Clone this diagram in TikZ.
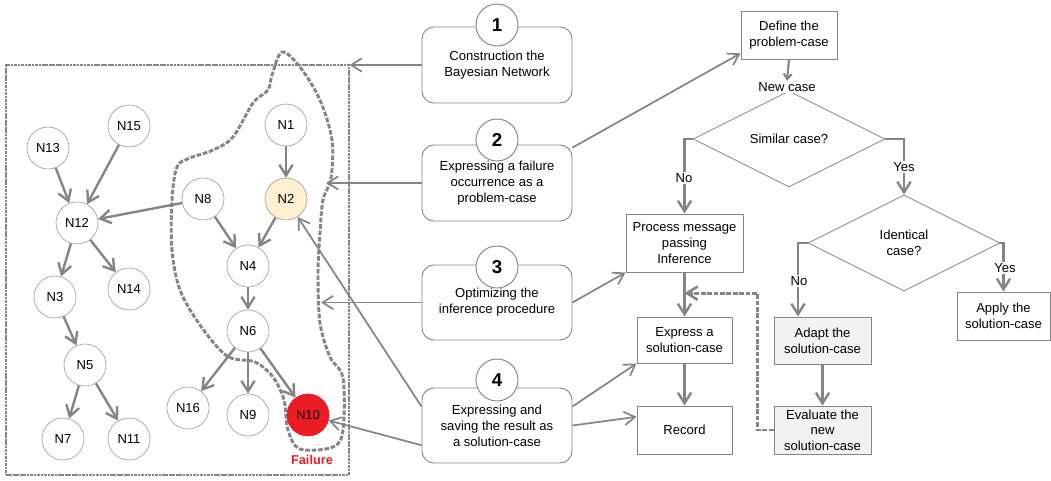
\documentclass[tikz,border=0pt]{standalone}
\usepackage{fontspec}
\setmainfont{Liberation Sans}
\usetikzlibrary{arrows.meta,shapes.geometric,calc}
\definecolor{lg}{HTML}{858585}
\definecolor{cgray}{HTML}{A0A0A0}
\definecolor{cream}{HTML}{FCF0D0}
\definecolor{fred}{HTML}{EC1C24}
\definecolor{boxgray}{HTML}{F2F2F2}
\begin{document}
\begin{tikzpicture}[x=0.75pt,y=-0.75pt,
  font=\fontsize{9.8pt}{12pt}\selectfont,
  bnode/.style={circle,draw=cgray,line width=0.5pt,minimum size=31.5pt,inner sep=0pt,fill=white},
  arr/.style={draw=lg,line width=1.8pt,-{Straight Barb[length=8pt,width=10pt]}},
  tarr/.style={draw=lg,line width=1.3pt,-{Straight Barb[length=8pt,width=10pt]}},
  stepbox/.style={draw=lg,rounded corners=9pt,line width=0.7pt,align=center,minimum width=112.5pt,inner sep=0pt},
  numc/.style={circle,draw=lg,line width=0.7pt,fill=white,minimum size=31.5pt,inner sep=0pt,font=\bfseries\fontsize{14pt}{14pt}\selectfont},
  fbox/.style={draw=lg,line width=0.7pt,align=center,inner sep=0pt,fill=white},
  dia/.style={diamond,draw=lg,line width=0.6pt,align=center,inner sep=0pt,aspect=2,minimum width=144pt,minimum height=72pt},
  lab/.style={fill=white,inner sep=1pt}
]
\useasboundingbox (0,0) rectangle (1051,480);

% Bayesian network frame
\node[draw=lg,dash pattern=on 2pt off 0.6pt,line width=0.8pt,minimum width=257.25pt,minimum height=307.5pt,inner sep=0pt] (bn) at (177.5,270) {};

% highlighted region
\draw[draw=lg,line width=2.2pt,dash pattern=on 3.5pt off 1.3pt]
  plot[smooth cycle,tension=0.55] coordinates {
  (282,52) (300,67) (320,100) (332,140) (331,178) (323,200) (320,233)
  (318,273) (320,323) (330,357) (343,378) (343,430) (333,447) (300,449)
  (288,430) (284,400) (273,377) (255,362) (227,356) (200,325) (180,290)
  (172,250) (172,200) (177,167) (190,158) (213,150) (233,137) (253,103)
  (268,90) (272,75)};

% network nodes
\node[bnode] (n13) at (48,148) {N13};
\node[bnode] (n15) at (129,126) {N15};
\node[bnode] (n1) at (286,125) {N1};
\node[bnode] (n12) at (77,223) {N12};
\node[bnode] (n8) at (203,199) {N8};
\node[bnode,fill=cream] (n2) at (286,199) {N2};
\node[bnode] (n4) at (248,266) {N4};
\node[bnode] (n3) at (55,297) {N3};
\node[bnode] (n14) at (129,289) {N14};
\node[bnode] (n6) at (248,331) {N6};
\node[bnode] (n5) at (85,365) {N5};
\node[bnode] (n16) at (188,408) {N16};
\node[bnode] (n9) at (248,415) {N9};
\node[bnode,fill=fred,draw=fred] (n10) at (308,415) {N10};
\node[bnode] (n7) at (63,439) {N7};
\node[bnode] (n11) at (129,439) {N11};
\node[text=fred,font=\bfseries\fontsize{9.6pt}{11pt}\selectfont] (fail) at (312,460) {Failure};

\draw[arr] (n1) -- (n2);
\draw[arr] (n2) -- (n4);
\draw[arr] (n8) -- (n4);
\draw[arr] (n4) -- (n6);
\draw[arr] (n6) -- (n16);
\draw[arr] (n6) -- (n9);
\draw[arr] (n6) -- (n10);
\draw[arr] (n8) -- (n12);
\draw[arr] (n13) -- (n12);
\draw[arr] (n15) -- (n12);
\draw[arr] (n12) -- (n3);
\draw[arr] (n12) -- (n14);
\draw[arr] (n3) -- (n5);
\draw[arr] (n5) -- (n7);
\draw[arr] (n5) -- (n11);

% step boxes
\node[stepbox,minimum height=57pt] (b1) at (497,65) {Construction the\\Bayesian Network};
\node[stepbox,minimum height=57pt] (b2) at (497,183) {Expressing a failure\\occurrence as a\\problem-case};
\node[stepbox,minimum height=56.25pt] (b3) at (497,302.5) {Optimizing the\\inference procedure};
\node[stepbox,minimum height=56.25pt] (b4) at (497,425.5) {Expressing and\\saving the result as\\a solution-case};
\node[numc] (c1) at (497,25) {1};
\node[numc] (c2) at (497,140) {2};
\node[numc] (c3) at (497,267) {3};
\node[numc] (c4) at (497,380) {4};

\coordinate (blob2) at (326,183);
\coordinate (blob3) at (321,302.5);

% flowchart
\node[fbox,minimum width=72pt,minimum height=36pt] (define) at (789,35) {Define the\\problem-case};
\node[dia] (sim) at (789,139) {Similar case?};
\node[lab] (newcase) at (787,87) {New case};
\node[fbox,minimum width=87.75pt,minimum height=43.5pt] (process) at (684.5,243) {Process message\\passing\\Inference};
\node[dia] (ident) at (904,243) {Identical\\case?};
\node[fbox,minimum width=71.25pt,minimum height=34.5pt] (express) at (684.5,340) {Express a\\solution-case};
\node[fbox,minimum width=71.25pt,minimum height=36pt] (record) at (684.5,430) {Record};
\node[fbox,fill=boxgray,minimum width=72.75pt,minimum height=35.25pt] (adapt) at (822.5,340.5) {Adapt the\\solution-case};
\node[fbox,fill=boxgray,minimum width=72.75pt,minimum height=36pt,font=\fontsize{9.8pt}{11.5pt}\selectfont] (eval) at (822.5,430) {Evaluate the\\new\\solution-case};
\node[fbox,minimum width=69.75pt,minimum height=36pt] (apply) at (1003.5,316) {Apply the\\solution-case};

% step box connectors
\draw[tarr] (b1.west) -- (b1.west -| bn.east);
\draw[tarr] (b2.west) -- (blob2);
\draw[tarr] (b3.west) -- (blob3);
\draw[tarr] ($(b4.north west)!0.25!(b4.south west)$) -- (n2);
\draw[tarr] ($(b4.north west)!0.76!(b4.south west)$) -- (n10);
\draw[tarr] ($(b2.north east)!0.04!(b2.south east)$) -- ($(define.north west)!0.875!(define.south west)$);
\draw[tarr] (b3.east) -- (process.south west);
\draw[tarr] ($(b4.north east)!0.25!(b4.south east)$) -- (express.south west);
\draw[tarr] (b4.east) -- ($(record.north west)!0.23!(record.south west)$);

% flowchart connectors
\draw[draw=lg,line width=1.6pt,-{Straight Barb[length=4pt,width=6pt]}] (define.south) -- (newcase.north);
\draw[arr] (sim.west) -| (process.north);
\draw[arr] (sim.east) -| (ident.north);
\draw[arr] (ident.west) -| ($(adapt.north west)!0.25!(adapt.north east)$);
\draw[arr] (ident.east) -| (apply.north);
\draw[arr] (process.south) -- (express.north);
\draw[arr] (express.south) -- (record.north);
\draw[arr] (adapt.south) -- (eval.north);
\coordinate (mid) at ($(process.south)!0.47!(express.north)$);
\draw[arr,line width=2pt,dash pattern=on 3.5pt off 1.3pt] (eval.west) -- ++(-16,0) |- (mid);

\node[lab] (no1) at (684,178) {No};
\node[lab] (yes1) at (904,167) {Yes};
\node[lab] (no2) at (799,281) {No};
\node[lab] (yes2) at (1005,268) {Yes};
\end{tikzpicture}
\end{document}
